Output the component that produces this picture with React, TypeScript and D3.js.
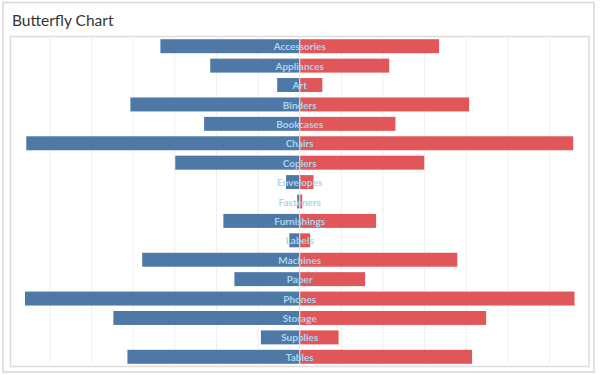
import React from "react";
import * as d3 from "d3";

const categories = [
  "Accessories", "Appliances", "Art", "Binders", "Bookcases", "Chairs", "Copiers",
  "Envelopes", "Fasteners", "Furnishings", "Labels", "Machines", "Paper", "Phones",
  "Storage", "Supplies", "Tables",
];
const leftValues = [
  167380, 107532, 27119, 203413, 114880, 328449, 149528, 16476, 3024, 91705,
  12486, 189239, 78479, 330007, 223844, 46674, 206966,
];
const rightValues = [
  167380, 107532, 27119, 203413, 114880, 328449, 149528, 16476, 3024, 91705,
  12486, 189239, 78479, 330007, 223844, 46674, 206966,
];
const gridTicks = [-300000, -250000, -200000, -150000, -100000, -50000, 50000, 100000, 150000, 200000, 250000, 300000];
const title = "Butterfly Chart";

const W = 602;
const H = 375;
const plot = { left: 10.5, right: 589, top: 36.5, bottom: 366.5 };

export default function App() {
  const x = d3.scaleLinear().domain([-347400, 347400]).range([plot.left, plot.right]);
  const y = d3
    .scaleBand<string>()
    .domain(categories)
    .range([plot.top, plot.bottom])
    .paddingInner(0.28)
    .paddingOuter(0.14);
  const x0 = x(0);
  const font = "Lato, 'Open Sans', sans-serif";
  return (
    <svg width={W} height={H} style={{ position: "absolute", left: 0, top: 0, background: "#fff" }}>
      <rect x={3} y={2.5} width={591} height={369.5} fill="#fff" stroke="#d6d6d6" strokeWidth={1.5} />
      <text x={12} y={25.5} fontFamily={font} fontSize={15.5} fill="#333">{title}</text>
      <rect x={plot.left} y={plot.top} width={plot.right - plot.left} height={plot.bottom - plot.top} fill="#fff" stroke="#dcdcdc" strokeWidth={1.5} />
      {gridTicks.map((t) => (
        <line key={t} x1={x(t)} x2={x(t)} y1={plot.top} y2={plot.bottom} stroke="#efefef" strokeWidth={1} />
      ))}
      {categories.map((c, i) => (
        <g key={c}>
          <rect x={x(-leftValues[i])} y={y(c)} width={x0 - x(-leftValues[i])} height={y.bandwidth()} fill="#4e79a7" />
          <rect x={x0} y={y(c)} width={x(rightValues[i]) - x0} height={y.bandwidth()} fill="#e15759" />
        </g>
      ))}
      <line x1={x0} x2={x0} y1={plot.top} y2={plot.bottom} stroke="#e8e8e8" strokeWidth={1} />
      {categories.map((c) => (
        <text
          key={c}
          x={x0}
          y={(y(c) as number) + y.bandwidth() / 2 + 1.5}
          textAnchor="middle"
          dominantBaseline="middle"
          fontFamily={font}
          fontWeight={700}
          fontSize={10}
          fill="#a9d6ee"
        >
          {c}
        </text>
      ))}
    </svg>
  );
}
